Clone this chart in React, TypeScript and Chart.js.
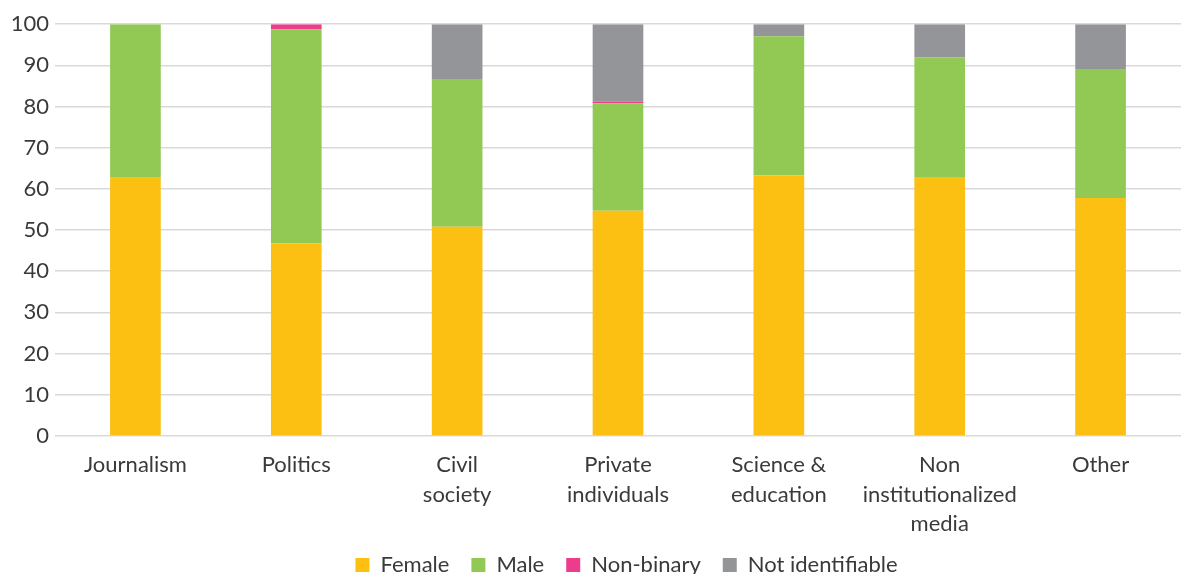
import React, { useEffect, useRef } from "react";
import { Chart, registerables } from "chart.js";

Chart.register(...registerables);

const categories: (string | string[])[] = [
  "Journalism",
  "Politics",
  ["Civil", "society"],
  ["Private", "individuals"],
  ["Science &", "education"],
  ["Non", "institutionalized", "media"],
  "Other",
];
const female = [62.7, 46.8, 50.8, 54.7, 63.3, 62.9, 57.8];
const male = [37.3, 52.0, 35.9, 26.1, 33.8, 29.1, 31.3];
const nonBinary = [0, 1.2, 0, 0.4, 0, 0, 0];
const notIdentifiable = [0, 0, 13.3, 18.8, 2.9, 8.0, 10.9];
const yTicks = [0, 10, 20, 30, 40, 50, 60, 70, 80, 90, 100];

const FONT = "Lato, 'Open Sans', sans-serif";
const TEXT = "#3a3a3a";
const X_SHRINK = 13;

const layoutTweaks = {
  id: "layoutTweaks",
  afterLayout(chart: any) {
    const lg = chart.legend;
    if (lg) {
      lg.left += 32;
      lg.right += 32;
    }
    const x = chart.scales.x;
    if (x) {
      x.bottom += X_SHRINK;
      x.height += X_SHRINK;
    }
  },
};

export default function App() {
  const ref = useRef<HTMLCanvasElement | null>(null);
  useEffect(() => {
    if (!ref.current) return;
    document.documentElement.style.overflow = "hidden";
    document.body.style.overflow = "hidden";
    const chart = new Chart(ref.current, {
      type: "bar",
      data: {
        labels: categories,
        datasets: [
          { label: "Female", data: female, backgroundColor: "#FBC012" },
          { label: "Male", data: male, backgroundColor: "#92C955" },
          { label: "Non-binary", data: nonBinary, backgroundColor: "#EC3D8D" },
          { label: "Not identifiable", data: notIdentifiable, backgroundColor: "#949598" },
        ],
      },
      plugins: [layoutTweaks],
      options: {
        animation: false,
        responsive: true,
        maintainAspectRatio: false,
        layout: { padding: 0 },
        datasets: { bar: { categoryPercentage: 1, barPercentage: 0.315 } },
        plugins: {
          tooltip: { enabled: false },
          legend: {
            position: "bottom",
            labels: {
              font: { family: FONT, size: 22 },
              color: TEXT,
              boxWidth: 14,
              boxHeight: 14,
              padding: 22,
            },
          },
        },
        scales: {
          x: {
            stacked: true,
            grid: { display: false },
            border: { display: false },
            afterFit: (s: any) => {
              s.height -= X_SHRINK;
            },
            ticks: {
              font: { family: FONT, size: 22, lineHeight: 1.32 },
              color: TEXT,
              padding: 7,
              maxRotation: 0,
              autoSkip: false,
            },
          },
          y: {
            stacked: true,
            min: 0,
            max: 100,
            afterBuildTicks: (s: any) => {
              s.ticks = yTicks.map((v) => ({ value: v }));
            },
            afterFit: (s: any) => {
              s.width = 47;
              s.paddingTop = Math.max(0, (s.paddingTop || 0) - 3);
            },
            grid: { color: "#d9d9d9", lineWidth: 1.5, drawTicks: false },
            border: { display: false },
            ticks: {
              font: { family: FONT, size: 22 },
              color: TEXT,
              padding: 6,
            },
          },
        },
      },
    });
    return () => chart.destroy();
  }, []);
  return (
    <div style={{ width: 1173, height: 578, position: "relative" }}>
      <canvas ref={ref} />
    </div>
  );
}
